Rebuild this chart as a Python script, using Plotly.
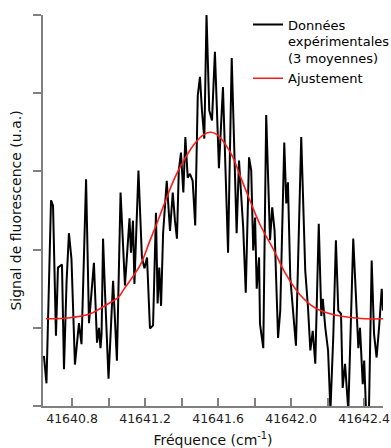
import plotly.graph_objects as go

# Experimental data (3 averages): frequency (cm^-1) and fluorescence signal (a.u.)
freq_data = [
    41640.646, 41640.660, 41640.685, 41640.696, 41640.712, 41640.723, 41640.745, 41640.756,
    41640.770, 41640.783, 41640.797, 41640.816, 41640.838, 41640.852, 41640.877, 41640.893,
    41640.920, 41640.937, 41640.948, 41640.956, 41640.962, 41640.970, 41640.981, 41641.000,
    41641.025, 41641.046, 41641.066, 41641.090, 41641.115, 41641.123, 41641.134, 41641.142,
    41641.164, 41641.183, 41641.197, 41641.211, 41641.227, 41641.244, 41641.260, 41641.269,
    41641.278, 41641.288, 41641.299, 41641.319, 41641.337, 41641.352, 41641.364, 41641.375,
    41641.385, 41641.397, 41641.410, 41641.421, 41641.434, 41641.446, 41641.461, 41641.475,
    41641.489, 41641.501, 41641.512, 41641.525, 41641.537, 41641.552, 41641.567, 41641.583,
    41641.605, 41641.627, 41641.655, 41641.675, 41641.702, 41641.715, 41641.738, 41641.752,
    41641.770, 41641.782, 41641.793, 41641.803, 41641.812, 41641.825, 41641.830, 41641.848,
    41641.864, 41641.885, 41641.897, 41641.910, 41641.929, 41641.941, 41641.963, 41641.974,
    41641.983, 41641.996, 41642.027, 41642.056, 41642.078, 41642.093, 41642.106, 41642.119,
    41642.133, 41642.152, 41642.166, 41642.174, 41642.188, 41642.203, 41642.216, 41642.232,
    41642.246, 41642.259, 41642.274, 41642.283, 41642.296, 41642.314, 41642.341, 41642.360,
    41642.369, 41642.378, 41642.393, 41642.401, 41642.411, 41642.427, 41642.442, 41642.455,
    41642.469, 41642.484, 41642.497, 41642.504,
]
signal_data = [
    0.64, 0.29, 2.63, 2.56, 0.90, 1.77, 1.81, 0.47,
    1.58, 2.21, 1.88, 0.53, 1.06, 0.79, 2.90, 1.06,
    1.83, 0.81, 1.00, 0.74, 0.92, 2.14, 1.44, 0.35,
    1.60, 0.58, 2.73, 1.54, 2.40, 1.96, 2.37, 1.56,
    3.01, 1.90, 1.76, 1.90, 0.99, 1.03, 2.47, 1.31,
    1.77, 1.28, 2.21, 2.88, 2.24, 2.73, 2.37, 2.14,
    3.01, 3.24, 2.73, 3.44, 2.92, 2.97, 2.88, 2.31,
    3.97, 4.21, 3.78, 3.42, 5.00, 3.78, 3.65, 4.53,
    3.04, 4.08, 1.96, 4.45, 2.21, 3.14, 2.28, 1.45,
    3.18, 3.01, 1.99, 2.41, 1.50, 1.90, 1.05, 0.74,
    3.72, 2.12, 2.54, 2.24, 0.87, 1.22, 3.37, 2.59,
    2.86, 1.64, 0.77, 3.44, 1.73, 1.26, 0.71, 0.96,
    0.54, 2.33, 1.15, 1.37, 1.00, 0.71, -0.06, 0.92,
    2.12, 1.22, 1.18, 0.23, 0.54, -0.06, 2.14, 1.05,
    0.74, 1.00, 0.28, 0.58, -0.06, -0.06, 1.86, 0.92,
    0.62, 1.05, 1.50, 1.22,
]

# Fit (Ajustement)
freq_fit = [
    41640.657, 41640.789, 41640.899, 41640.953, 41641.008, 41641.052, 41641.090, 41641.118,
    41641.178, 41641.227, 41641.271, 41641.315, 41641.364, 41641.419, 41641.474, 41641.523,
    41641.562, 41641.600, 41641.644, 41641.682, 41641.720, 41641.775, 41641.830, 41641.907,
    41641.967, 41642.049, 41642.131, 41642.214, 41642.296, 41642.405, 41642.504,
]
signal_fit = [
    1.115, 1.128, 1.179, 1.244, 1.321, 1.385, 1.513, 1.603,
    1.821, 2.115, 2.372, 2.641, 2.923, 3.167, 3.359, 3.474,
    3.500, 3.462, 3.333, 3.179, 2.949, 2.628, 2.321, 1.987,
    1.705, 1.423, 1.256, 1.179, 1.141, 1.115, 1.115,
]

x_range = [41640.641, 41642.504]
y_range = [0, 5]

FONT = "DejaVu Sans"

fig = go.Figure()
fig.add_trace(go.Scatter(
    x=freq_data, y=signal_data, mode="lines",
    line=dict(color="black", width=2),
    name="Données<br>expérimentales<br>(3 moyennes)",
))
fig.add_trace(go.Scatter(
    x=freq_fit, y=signal_fit, mode="lines",
    line=dict(color="#ff1a1a", width=1.6, shape="spline", smoothing=1.0),
    name="Ajustement",
))

fig.update_layout(
    width=391, height=448,
    margin=dict(l=43, r=8, t=15, b=42, autoexpand=False),
    paper_bgcolor="white", plot_bgcolor="white",
    font=dict(family=FONT, size=13, color="black"),
    showlegend=True,
    legend=dict(
        x=0.603, y=1.014, xanchor="left", yanchor="top",
        bgcolor="rgba(0,0,0,0)", borderwidth=0,
        font=dict(family=FONT, size=13, color="black"),
        valign="top", tracegroupgap=0, itemwidth=30,
    ),
    xaxis=dict(
        range=x_range, showgrid=False, zeroline=False,
        showline=True, linecolor="#808080", linewidth=1.5,
        ticks="inside", ticklen=8, tickcolor="#808080", tickwidth=1.5,
        tick0=41640.8, dtick=0.4, tickformat=".1f",
        tickfont=dict(family=FONT, size=12.5, color="#222222"),
        minor=dict(ticks="inside", ticklen=8, tickcolor="#808080", tickwidth=1.5,
                   tick0=41640.8, dtick=0.2, showgrid=False),
        title=dict(text="Fréquence (cm<sup>-1</sup>)",
                   font=dict(family=FONT, size=14, color="#111111"), standoff=13),
    ),
    yaxis=dict(
        range=y_range, showgrid=False, zeroline=False,
        showline=True, linecolor="#808080", linewidth=1.5,
        ticks="outside", ticklen=8, tickcolor="#808080", tickwidth=1.5,
        tick0=0, dtick=1, showticklabels=False,
        title=dict(text="Signal de fluorescence (u.a.)",
                   font=dict(family=FONT, size=14, color="#111111"), standoff=8),
    ),
)

fig.write_html("out.html", config={"displayModeBar": False},
               post_script="document.body.style.margin='0px';")
